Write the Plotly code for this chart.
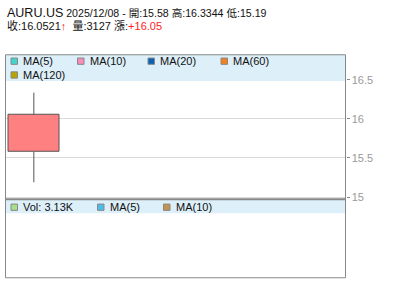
import plotly.graph_objects as go

# ---- data ----
symbol = "AURU.US"
dates = ["2025/12/08"]
opens = [15.58]
highs = [16.3344]
lows = [15.19]
closes = [16.0521]
volumes = [3127]
changes = [16.05]

price_ma_labels = ["MA(5)", "MA(10)", "MA(20)", "MA(60)", "MA(120)"]
price_ma_colors = ["#44D4CE", "#F78DB8", "#0B62B2", "#F5811E", "#B8A400"]
vol_labels = ["Vol: %.2fK" % (volumes[-1] / 1000), "MA(5)", "MA(10)"]
vol_colors = ["#A6DE8A", "#4CBDEB", "#C39350"]

price_ticks = [15, 15.5, 16, 16.5]
price_tick_text = ["15", "15.5", "16", "16.5"]
price_range = [14.972, 16.818]
n_slots = 6

W, H = 400, 301
def px(x):
    return x / W
def py(y):
    return 1 - y / H

L, R = 5.5, 345.5
T, MID, B = 55.5, 202, 281.5

FONT = "Arial, 'Liberation Sans', 'Noto Sans CJK TC', sans-serif"

fig = go.Figure()

xs = list(range(len(dates)))
# candle body
fig.add_trace(go.Bar(
    x=xs, y=[c - o for o, c in zip(opens, closes)], base=opens,
    width=0.9, marker=dict(color="#FF8080", line=dict(color="#555555", width=1)),
    xaxis="x", yaxis="y", hoverinfo="skip", showlegend=False))
# wicks
wx, wy = [], []
for i, o, h, l, c in zip(xs, opens, highs, lows, closes):
    wx += [i, i, None, i, i, None]
    wy += [l, min(o, c), None, max(o, c), h, None]
fig.add_trace(go.Scatter(x=wx, y=wy, mode="lines", line=dict(color="#555555", width=1),
                         xaxis="x", yaxis="y", hoverinfo="skip", showlegend=False))

shapes = []
annotations = []

# legend bands
shapes.append(dict(type="rect", xref="paper", yref="paper", x0=px(L), x1=px(R), y0=py(82), y1=py(T),
                   fillcolor="#DDEFF9", line=dict(width=0), layer="above"))
shapes.append(dict(type="rect", xref="paper", yref="paper", x0=px(L), x1=px(R), y0=py(216), y1=py(MID),
                   fillcolor="#DDEFF9", line=dict(width=0), layer="above"))
# borders
shapes.append(dict(type="rect", xref="paper", yref="paper", x0=px(L), x1=px(R), y0=py(B), y1=py(T),
                   line=dict(color="#888888", width=1), layer="above"))
shapes.append(dict(type="line", xref="paper", yref="paper", x0=px(L), x1=px(R), y0=py(MID), y1=py(MID),
                   line=dict(color="#888888", width=2), layer="above"))

def legend_item(x, y, color, label):
    shapes.append(dict(type="rect", xref="paper", yref="paper", x0=px(x), x1=px(x + 6.5),
                       y0=py(y + 3.2), y1=py(y - 3.2), fillcolor=color,
                       line=dict(color="#888888", width=1), layer="above"))
    annotations.append(dict(xref="paper", yref="paper", x=px(x + 10), y=py(y), text=label,
                            showarrow=False, xanchor="left", yanchor="middle",
                            font=dict(family=FONT, size=11, color="#111111")))

price_pos = [(11, 62), (77.5, 62), (148, 62), (221, 62), (11, 76)]
for (x, y), c, lab in zip(price_pos, price_ma_colors, price_ma_labels):
    legend_item(x, y, c, lab)
vol_pos = [(11, 210), (97.5, 210), (163.5, 210)]
for (x, y), c, lab in zip(vol_pos, vol_colors, vol_labels):
    legend_item(x, y, c, lab)

# title lines
line1 = ("<span style='font-size:12.5px'>%s</span> %s - 開:%s 高:%s 低:%s"
         % (symbol, dates[-1], opens[-1], highs[-1], lows[-1]))
line2 = ("收:%s<span style='color:#FF2222'><b>↑</b></span>  量:%d 漲:<span style='color:#FF2222'>+%.2f</span>"
         % (closes[-1], volumes[-1], changes[-1]))
annotations.append(dict(xref="paper", yref="paper", x=px(5), y=py(13), text=line1, showarrow=False,
                        xanchor="left", yanchor="middle", font=dict(family=FONT, size=10.6, color="#111111")))
annotations.append(dict(xref="paper", yref="paper", x=px(5), y=py(25.5), text=line2, showarrow=False,
                        xanchor="left", yanchor="middle", font=dict(family=FONT, size=11, color="#111111")))

fig.update_layout(
    width=W, height=H, margin=dict(l=0, r=0, t=0, b=0),
    paper_bgcolor="white", plot_bgcolor="white",
    showlegend=False, bargap=0,
    xaxis=dict(domain=[px(L), px(R)], range=[-0.5, n_slots - 0.5], visible=False, fixedrange=True),
    yaxis=dict(domain=[py(MID), py(T)], range=price_range, side="right",
               tickvals=price_ticks, ticktext=price_tick_text,
               showgrid=True, gridcolor="#DADADA", gridwidth=1, zeroline=False, showline=False,
               ticks="outside", ticklen=3, tickcolor="#888888",
               tickfont=dict(family=FONT, size=11, color="#999999"), fixedrange=True),
    xaxis2=dict(domain=[px(L), px(R)], range=[-0.5, n_slots - 0.5], visible=False, anchor="y2"),
    yaxis2=dict(domain=[py(B), py(MID)], range=[0, 1], visible=False, anchor="x2"),
    shapes=shapes, annotations=annotations,
)

fig.write_html("out.html")
